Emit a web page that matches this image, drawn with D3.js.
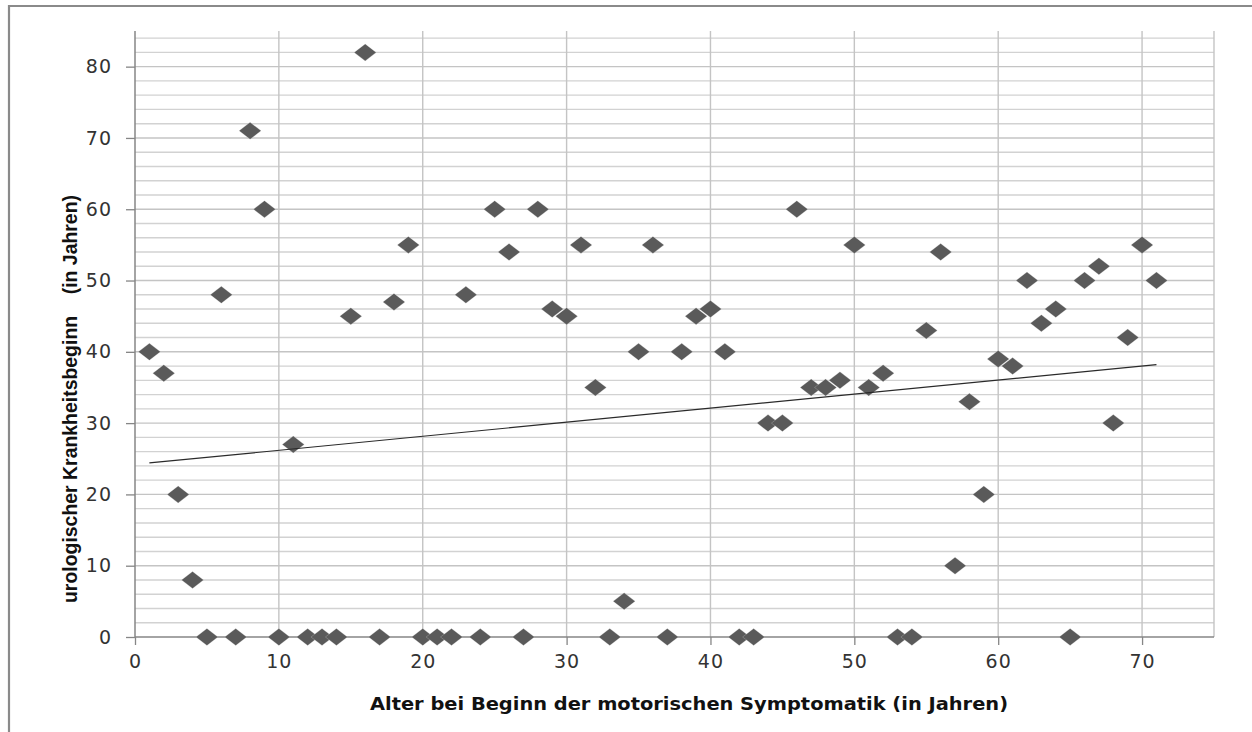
<!DOCTYPE html>
<html><head><meta charset="utf-8">
<script src="https://cdn.jsdelivr.net/npm/d3@7"></script>
<style>body{margin:0;background:#fff}svg{display:block}</style>
</head><body>
<svg id="c" width="1252" height="732"></svg>
<script>
// Data: age at onset of motor symptoms (x) vs. onset of urological disease (y)
const xValues = [1,2,3,4,5,6,7,8,9,10,11,12,13,14,15,16,17,18,19,20,21,22,23,24,25,26,27,28,29,30,31,32,33,34,35,36,37,38,39,40,41,42,43,44,45,46,47,48,49,50,51,52,53,54,55,56,57,58,59,60,61,62,63,64,65,66,67,68,69,70,71];
const yValues = [40,37,20,8,0,48,0,71,60,0,27,0,0,0,45,82,0,47,55,0,0,0,48,0,60,54,0,60,46,45,55,35,0,5,40,55,0,40,45,46,40,0,0,30,30,60,35,35,36,55,35,37,0,0,43,54,10,33,20,39,38,50,44,46,0,50,52,30,42,55,50];
const xTicks = [0,10,20,30,40,50,60,70];
const yTicks = [0,10,20,30,40,50,60,70,80];
const xTitle = "Alter bei Beginn der motorischen Symptomatik (in Jahren)";
const yTitle = "urologischer Krankheitsbeginn    (in Jahren)";

const svg = d3.select("#c");
const x = d3.scaleLinear().domain([0,75]).range([135,1214]);
const y = d3.scaleLinear().domain([0,85]).range([637,31]);

// outer chart border (left + top)
svg.append("path").attr("d","M9,732 V6 H1252").attr("fill","none").attr("stroke","#8a8a8a").attr("stroke-width",2.2);

// horizontal gridlines (every 2)
const hLines = d3.range(2,85,2);
svg.append("g").selectAll("line").data(hLines).join("line")
  .attr("x1",x(0)).attr("x2",x(75)).attr("y1",d=>y(d)).attr("y2",d=>y(d))
  .attr("stroke",d=>d%10===0?"#c4c4c4":"#d2d2d2").attr("stroke-width",1.4);
// vertical gridlines
const vLines = [10,20,30,40,50,60,70,75];
svg.append("g").selectAll("line").data(vLines).join("line")
  .attr("x1",d=>x(d)).attr("x2",d=>x(d)).attr("y1",y(0)).attr("y2",y(85))
  .attr("stroke","#c4c4c4").attr("stroke-width",1.4);

// axes
const xAxis = d3.axisBottom(x).tickValues(xTicks).tickSize(8).tickPadding(10).tickFormat(d3.format("d"));
const gx = svg.append("g").attr("transform",`translate(0,${y(0)})`).call(xAxis);
gx.select(".domain").attr("stroke","#868686").attr("stroke-width",1.5).attr("d",`M${x(0)},0H${x(75)}`);
gx.selectAll(".tick line").attr("stroke","#868686").attr("stroke-width",1.3);
gx.selectAll(".tick text").attr("font-family","DejaVu Sans").attr("font-size",19).attr("letter-spacing",1).attr("fill","#333");

const yAxis = d3.axisLeft(y).tickValues(yTicks).tickSize(9).tickPadding(14).tickFormat(d3.format("d"));
const gy = svg.append("g").attr("transform",`translate(${x(0)},0)`).call(yAxis);
gy.select(".domain").attr("stroke","#868686").attr("stroke-width",1.5).attr("d",`M0,${y(0)}V${y(85)}`);
gy.selectAll(".tick line").attr("stroke","#868686").attr("stroke-width",1.3);
gy.selectAll(".tick text").attr("font-family","DejaVu Sans").attr("font-size",19).attr("letter-spacing",1).attr("fill","#333");

// linear trendline (least squares)
const n = xValues.length;
const mx = d3.mean(xValues), my = d3.mean(yValues);
let sxy=0, sxx=0;
for(let i=0;i<n;i++){sxy+=(xValues[i]-mx)*(yValues[i]-my); sxx+=(xValues[i]-mx)**2;}
const slope = sxy/sxx, icpt = my - slope*mx;
const x0 = d3.min(xValues), x1 = d3.max(xValues);

// markers
const hw = 11, hh = 8.5;
svg.append("g").selectAll("path").data(xValues.map((v,i)=>[v,yValues[i]])).join("path")
  .attr("d",d=>{const cx=x(d[0]), cy=y(d[1]); return `M${cx},${cy-hh}L${cx+hw},${cy}L${cx},${cy+hh}L${cx-hw},${cy}Z`;})
  .attr("fill","#5a5a5a").attr("stroke","#e8e8e8").attr("stroke-width",0.4).attr("stroke-opacity",0.6);

svg.append("line")
  .attr("x1",x(x0)).attr("y1",y(icpt+slope*x0)).attr("x2",x(x1)).attr("y2",y(icpt+slope*x1))
  .attr("stroke","#2a2a2a").attr("stroke-width",1.2);

// titles
svg.append("text").attr("x",689).attr("y",710).attr("text-anchor","middle")
  .attr("font-family","DejaVu Sans").attr("font-weight","bold").attr("font-size",18).attr("fill","#111")
  .attr("textLength",638).attr("lengthAdjust","spacingAndGlyphs").text(xTitle);
svg.append("text").attr("transform","translate(77,399) rotate(-90)").attr("text-anchor","middle")
  .attr("font-family","Liberation Sans Narrow, Liberation Sans").attr("font-weight","bold").attr("font-size",21).attr("fill","#111")
  .attr("xml:space","preserve").style("white-space","pre")
  .attr("textLength",408).attr("lengthAdjust","spacingAndGlyphs").text(yTitle);
</script>
</body></html>
